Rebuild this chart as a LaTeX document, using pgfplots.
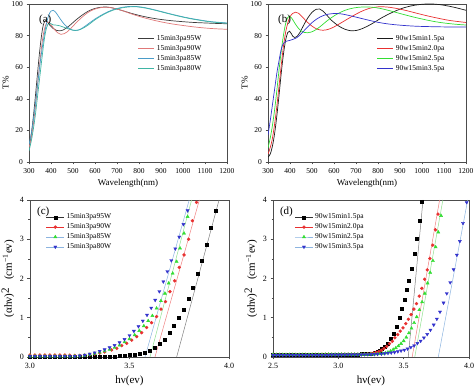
\documentclass[border=0pt]{standalone}
\usepackage{fontspec}
\setmainfont{Liberation Serif}
\usepackage{pgfplots}
\pgfplotsset{compat=1.18}
\definecolor{a95}{HTML}{3C3C3C}
\definecolor{a90}{HTML}{E07878}
\definecolor{a85}{HTML}{4A9CC8}
\definecolor{a80}{HTML}{3FB5A5}
\definecolor{bk}{HTML}{1A1A1A}
\definecolor{br}{HTML}{E83030}
\definecolor{bg}{HTML}{33DD33}
\definecolor{bb}{HTML}{3333CC}
\definecolor{lblue}{HTML}{8CB4E0}
\definecolor{lred}{HTML}{F08080}
\definecolor{lgreen}{HTML}{90E090}
\pgfplotsset{
  base/.style={scale only axis, anchor=south west,
    axis line style={draw=black!70}, tick style={black!70, line width=0.5pt},
    tick align=outside, tick pos=left, major tick length=2.5pt, minor tick length=1.5pt,
    /pgf/number format/assume math mode=true, /pgf/number format/1000 sep={},
    tick label style={font=\fontsize{7.5}{8.5}\selectfont},
    label style={font=\fontsize{9}{10}\selectfont},
    legend cell align=left,
    legend style={draw=none, fill=none, font=\fontsize{7.5}{8.5}\selectfont, row sep=-0.6pt, inner sep=0pt}},
  spec/.style={base, width=198pt, height=158pt, xmin=300, xmax=1200, ymin=0, ymax=100,
    xtick={300,400,...,1200}, ytick={0,20,...,100},
    xlabel={Wavelength(nm)}, ylabel={T\%},
    ylabel style={at={(axis description cs:-0.085,0.5)}, anchor=south},
    xlabel style={at={(axis description cs:0.5,-0.085)}, anchor=north},
    legend image code/.code={\draw[##1, line width=0.7pt] (0pt,0pt) -- (16pt,0pt);},
    legend style={at={(0.55,0.815)}, anchor=north west},
    every axis plot/.append style={line width=0.7pt, smooth, tension=0.6}},
  tauc/.style={base, height=157pt, ymin=0, ymax=4, ytick={0,1,2,3,4}, minor y tick num=1,
    xlabel={hν(ev)}, ylabel={(αhν)\raisebox{0.6ex}{2}\ \ \ (cm\textsuperscript{−1}ev)},
    label style={font=\fontsize{11}{12}\selectfont},
    ylabel style={at={(axis description cs:-0.062,0.5)}, anchor=south},
    xlabel style={at={(axis description cs:0.5,-0.1)}, anchor=north},
    tick label style={font=\fontsize{8}{9}\selectfont},
    xticklabel style={/pgf/number format/.cd, fixed, fixed zerofill, precision=1},
    legend image code/.code={\draw[mark repeat=2, mark phase=2, ##1] plot coordinates {(0pt,0pt) (9pt,0pt) (18pt,0pt)};},
    legend style={anchor=north west}},
}
\begin{document}
\begin{tikzpicture}[x=1pt,y=1pt]
\path[use as bounding box] (0,0) rectangle (474,387);
% ---------------- (a)
\begin{axis}[spec, at={(29pt,225pt)}]
\addplot[a95] coordinates {(300,8)(310,17)(320,29)(330,43)(340,58)(350,72)(360,83)(368,88)(376,89.5)(385,88.5)(395,86.5)(410,84.5)(425,83.3)(440,83)(455,83.5)(470,84.8)(490,87)(510,89.5)(540,92.8)(570,95.5)(600,97.2)(630,98)(650,98.1)(680,97.5)(720,96)(760,94.3)(800,92.8)(850,91.3)(900,90.2)(950,89.4)(1000,88.8)(1050,88.3)(1100,88)(1150,87.7)(1200,87.5)};
\addlegendentry{15min3pa95W}
\addplot[a90] coordinates {(300,9)(310,15)(320,24)(330,36)(340,50)(350,64)(360,76)(370,84)(380,88)(390,88.5)(400,87)(415,84)(430,81.8)(445,80.8)(460,81.2)(475,82.5)(490,84.5)(510,87.5)(540,91.5)(570,94.8)(600,96.8)(630,97.8)(650,98)(680,97.5)(720,96)(760,94)(800,92.2)(850,90.3)(900,88.7)(950,87.4)(1000,86.4)(1050,85.5)(1100,84.8)(1150,84.3)(1200,84)};
\addlegendentry{15min3pa90W}
\addplot[a85] coordinates {(300,11)(310,18)(320,27)(330,38)(340,50)(350,62)(360,72)(370,81)(380,88)(390,93)(400,95.5)(410,96)(420,95)(435,92)(450,89)(465,86.5)(480,84.8)(495,83.6)(510,83.2)(525,83.5)(545,85)(570,87.5)(600,90.5)(640,93.8)(680,96.3)(720,97.8)(760,98.5)(790,98.4)(830,97.6)(880,96)(930,94.2)(980,92.5)(1030,91)(1080,89.8)(1130,88.8)(1200,88)};
\addlegendentry{15min3pa85W}
\addplot[a80] coordinates {(300,7)(310,13)(320,21)(330,31)(340,43)(350,55)(360,67)(370,78)(380,85)(390,87.8)(400,87.5)(410,86.8)(425,86.6)(440,86.2)(460,85.2)(480,84.2)(500,83.4)(515,83.3)(530,83.7)(550,85)(575,87.3)(600,90)(640,93.4)(680,96)(720,97.5)(760,98.2)(790,98.2)(830,97.4)(880,95.8)(930,94)(980,92.3)(1030,90.8)(1080,89.6)(1130,88.6)(1200,87.8)};
\addlegendentry{15min3pa80W}
\node[anchor=north west, font=\fontsize{11}{12}\selectfont, inner sep=0pt] at (rel axis cs:0.05,0.93) {(a)};
\end{axis}
% ---------------- (b)
\begin{axis}[spec, at={(268pt,225pt)}]
\addplot[bk] coordinates {(300,3)(310,5)(320,10)(330,18)(340,29)(350,42)(360,56)(370,68)(380,77)(390,82)(398,82.8)(405,81.5)(413,79.5)(422,78.8)(432,79.5)(445,82)(460,86)(480,91)(500,94.7)(520,96.7)(535,96.8)(550,95.5)(570,92.5)(590,89.5)(620,86.2)(650,84)(680,83)(700,83.2)(730,84.5)(770,87.3)(820,91.5)(870,95)(920,97.7)(970,99.3)(1020,100)(1060,99.9)(1100,99.2)(1150,97.8)(1200,96)};
\addlegendentry{90w15min1.5pa}
\addplot[br] coordinates {(300,5)(310,9)(320,15)(330,24)(340,35)(350,48)(360,61)(370,73)(380,82)(390,88)(400,91.8)(412,94)(425,94.8)(438,94.2)(455,92)(475,89)(500,86)(525,84)(550,83.4)(575,84)(600,85.5)(640,88.7)(680,92)(720,95)(760,97.2)(800,98.2)(840,98.1)(880,97.3)(930,95.8)(980,94)(1030,92.3)(1080,90.8)(1130,89.5)(1200,88.3)};
\addlegendentry{90w15min2.0pa}
\addplot[bg] coordinates {(300,9)(310,15)(320,23)(330,33)(340,45)(350,58)(360,70)(370,80)(380,87.5)(390,91.5)(398,92.3)(408,91)(420,88.3)(435,85.2)(450,83)(465,82)(480,81.8)(495,82.2)(515,83.5)(540,86)(570,89.5)(610,93.3)(650,96)(690,97.5)(730,98.1)(770,98)(810,97.2)(860,95.5)(910,93.6)(960,91.8)(1010,90.2)(1060,88.8)(1110,87.8)(1160,87.1)(1200,86.7)};
\addlegendentry{90w15min2.5pa}
\addplot[bb] coordinates {(300,17)(310,26)(320,36)(330,46)(340,56)(350,64)(358,70)(366,74)(375,75.8)(385,76.5)(400,77)(415,77.7)(430,78.6)(445,80.3)(460,82.5)(480,85.5)(500,88.2)(525,90.8)(550,92.6)(575,93.6)(600,94)(630,93.8)(660,93)(700,91.7)(750,90)(800,88.4)(850,87.3)(900,86.6)(950,86.1)(1000,85.8)(1100,85.5)(1200,85.4)};
\addlegendentry{90w15min3.5pa}
\node[anchor=north west, font=\fontsize{11}{12}\selectfont, inner sep=0pt] at (rel axis cs:0.05,0.93) {(b)};
\end{axis}
% ---------------- (c)
\begin{axis}[tauc, at={(30pt,30pt)}, width=199pt, xmin=3, xmax=4, xtick={3,3.5,4}, minor x tick num=1,
  legend style={at={(0.08,0.925)}}]
\addplot[gray, line width=0.5pt, forget plot] coordinates {(3.737,0)(3.95,4)};
\addplot[lred, line width=0.5pt, forget plot] coordinates {(3.628,0)(3.851,4)};
\addplot[lgreen, line width=0.5pt, forget plot] coordinates {(3.603,0)(3.812,4)};
\addplot[lblue, line width=0.5pt, forget plot] coordinates {(3.578,0)(3.80,4)};
\addplot[only marks, mark=square*, mark size=1.5pt, black, forget plot] coordinates {(3.0,0.005)(3.025,0.005)(3.05,0.005)(3.075,0.005)(3.1,0.005)(3.125,0.005)(3.15,0.005)(3.175,0.005)(3.2,0.005)(3.225,0.005)(3.25,0.005)(3.275,0.006)(3.3,0.007)(3.325,0.008)(3.35,0.009)(3.375,0.01)(3.40,0.013)(3.425,0.018)(3.45,0.025)(3.475,0.035)(3.50,0.05)(3.525,0.07)(3.553,0.094)(3.578,0.12)(3.603,0.16)(3.628,0.24)(3.653,0.33)(3.675,0.45)(3.70,0.62)(3.722,0.80)(3.747,1.0)(3.77,1.21)(3.795,1.48)(3.817,1.77)(3.841,2.11)(3.863,2.45)(3.886,2.85)(3.91,3.3)(3.935,3.73)};
\addplot[only marks, mark=*, mark size=1.5pt, br, forget plot] coordinates {(3.0,0.05)(3.025,0.05)(3.05,0.05)(3.075,0.05)(3.1,0.05)(3.125,0.05)(3.15,0.05)(3.175,0.05)(3.2,0.045)(3.225,0.04)(3.25,0.04)(3.275,0.045)(3.3,0.055)(3.325,0.075)(3.35,0.10)(3.375,0.13)(3.41,0.18)(3.436,0.22)(3.461,0.29)(3.486,0.35)(3.511,0.43)(3.536,0.52)(3.561,0.62)(3.586,0.75)(3.611,0.875)(3.636,1.03)(3.658,1.22)(3.681,1.41)(3.703,1.665)(3.727,1.94)(3.750,2.285)(3.774,2.60)(3.797,3.0)(3.816,3.47)(3.837,3.94)};
\addplot[only marks, mark=triangle*, mark size=1.8pt, bg, forget plot] coordinates {(3.0,0.02)(3.025,0.02)(3.05,0.02)(3.075,0.02)(3.1,0.02)(3.125,0.02)(3.15,0.02)(3.175,0.02)(3.2,0.02)(3.225,0.02)(3.25,0.025)(3.275,0.04)(3.30,0.06)(3.325,0.09)(3.35,0.12)(3.375,0.15)(3.40,0.19)(3.425,0.24)(3.45,0.30)(3.475,0.38)(3.50,0.46)(3.526,0.56)(3.549,0.67)(3.572,0.79)(3.594,0.92)(3.615,1.05)(3.636,1.24)(3.658,1.43)(3.678,1.62)(3.697,1.88)(3.717,2.13)(3.737,2.43)(3.754,2.77)(3.774,3.15)(3.792,3.575)};
\addplot[only marks, mark=triangle*, mark options={rotate=180}, mark size=1.8pt, bb, forget plot] coordinates {(3.0,0.02)(3.025,0.02)(3.05,0.02)(3.075,0.02)(3.1,0.02)(3.125,0.02)(3.15,0.02)(3.175,0.02)(3.2,0.02)(3.225,0.02)(3.25,0.03)(3.275,0.05)(3.30,0.08)(3.325,0.11)(3.35,0.15)(3.375,0.19)(3.40,0.24)(3.425,0.30)(3.45,0.37)(3.475,0.45)(3.50,0.55)(3.522,0.66)(3.545,0.78)(3.567,0.92)(3.588,1.07)(3.609,1.25)(3.629,1.45)(3.65,1.67)(3.67,1.92)(3.69,2.18)(3.71,2.46)(3.73,2.76)(3.75,3.06)(3.771,3.38)(3.792,3.73)};
\addlegendimage{black!80, mark=square*, mark size=1.5pt, mark options={black}}
\addlegendentry{15min3pa95W}
\addlegendimage{br, mark=*, mark size=1.5pt, mark options={br}}
\addlegendentry{15min3pa90W}
\addlegendimage{lblue, mark=triangle*, mark size=1.8pt, mark options={bg, fill=bg}}
\addlegendentry{15min3pa85W}
\addlegendimage{lblue, mark=triangle*, mark size=1.8pt, mark options={bb, fill=bb, rotate=180}}
\addlegendentry{15min3pa80W}
\node[anchor=north west, font=\fontsize{11}{12}\selectfont, inner sep=0pt] at (rel axis cs:0.035,0.955) {(c)};
\end{axis}
% ---------------- (d)
\begin{axis}[tauc, at={(273pt,30pt)}, width=196pt, xmin=2.5, xmax=4, xtick={2.5,3,3.5,4}, minor x tick num=1,
  legend style={at={(0.11,0.925)}}]
\addplot[gray, line width=0.5pt, forget plot] coordinates {(3.535,0)(3.648,4)};
\addplot[lred, line width=0.5pt, forget plot] coordinates {(3.565,0)(3.775,4)};
\addplot[lgreen, line width=0.5pt, forget plot] coordinates {(3.585,0)(3.80,4)};
\addplot[lblue, line width=0.5pt, forget plot] coordinates {(3.765,0)(3.99,4)};
\addplot[only marks, mark=square*, mark size=1.5pt, black, forget plot] coordinates {(2.5,0.05)(2.525,0.05)(2.55,0.05)(2.575,0.05)(2.6,0.05)(2.625,0.05)(2.65,0.05)(2.675,0.05)(2.7,0.05)(2.725,0.05)(2.75,0.055)(2.775,0.055)(2.8,0.055)(2.825,0.055)(2.85,0.06)(2.875,0.06)(2.9,0.06)(2.925,0.06)(2.95,0.06)(2.975,0.065)(3.0,0.065)(3.025,0.065)(3.05,0.065)(3.075,0.07)(3.1,0.07)(3.125,0.07)(3.15,0.07)(3.175,0.075)(3.2,0.08)(3.225,0.085)(3.25,0.09)(3.275,0.11)(3.30,0.13)(3.32,0.16)(3.334,0.20)(3.357,0.26)(3.378,0.35)(3.397,0.46)(3.423,0.60)(3.443,0.77)(3.466,0.99)(3.487,1.24)(3.505,1.45)(3.52,1.71)(3.54,1.94)(3.56,2.24)(3.581,2.62)(3.60,3.02)(3.62,3.47)(3.640,3.96)};
\addplot[only marks, mark=*, mark size=1.5pt, br, forget plot] coordinates {(2.5,0.06)(2.525,0.06)(2.55,0.06)(2.575,0.06)(2.6,0.06)(2.625,0.06)(2.65,0.06)(2.675,0.06)(2.7,0.06)(2.725,0.06)(2.75,0.06)(2.775,0.06)(2.8,0.06)(2.825,0.06)(2.85,0.06)(2.875,0.065)(2.9,0.065)(2.925,0.065)(2.95,0.065)(2.975,0.065)(3.0,0.065)(3.025,0.07)(3.05,0.07)(3.075,0.07)(3.1,0.07)(3.125,0.07)(3.15,0.07)(3.175,0.07)(3.2,0.075)(3.225,0.08)(3.25,0.09)(3.27,0.10)(3.29,0.12)(3.31,0.14)(3.33,0.17)(3.35,0.22)(3.371,0.27)(3.392,0.34)(3.413,0.40)(3.433,0.49)(3.454,0.57)(3.474,0.66)(3.495,0.74)(3.516,0.85)(3.536,0.96)(3.557,1.08)(3.578,1.22)(3.598,1.36)(3.619,1.55)(3.639,1.75)(3.66,1.98)(3.681,2.22)(3.701,2.51)(3.722,2.85)(3.743,3.24)(3.763,3.64)};
\addplot[only marks, mark=triangle*, mark size=1.8pt, bg, forget plot] coordinates {(2.5,0.06)(2.525,0.06)(2.55,0.06)(2.575,0.06)(2.6,0.06)(2.625,0.06)(2.65,0.06)(2.675,0.06)(2.7,0.06)(2.725,0.06)(2.75,0.06)(2.775,0.06)(2.8,0.06)(2.825,0.06)(2.85,0.06)(2.875,0.06)(2.9,0.065)(2.925,0.065)(2.95,0.065)(2.975,0.065)(3.0,0.065)(3.025,0.065)(3.05,0.065)(3.075,0.065)(3.1,0.065)(3.125,0.065)(3.15,0.065)(3.175,0.065)(3.2,0.065)(3.225,0.065)(3.25,0.07)(3.275,0.07)(3.30,0.075)(3.32,0.08)(3.34,0.09)(3.36,0.10)(3.38,0.12)(3.40,0.15)(3.42,0.19)(3.44,0.23)(3.46,0.28)(3.48,0.34)(3.50,0.41)(3.52,0.50)(3.54,0.61)(3.56,0.73)(3.58,0.87)(3.60,1.02)(3.62,1.2)(3.641,1.40)(3.662,1.62)(3.683,1.88)(3.703,2.15)(3.724,2.45)(3.745,2.8)(3.765,3.18)(3.786,3.6)};
\addplot[only marks, mark=triangle*, mark options={rotate=180}, mark size=1.8pt, bb, forget plot] coordinates {(2.5,0.05)(2.525,0.05)(2.55,0.05)(2.575,0.05)(2.6,0.05)(2.625,0.05)(2.65,0.05)(2.675,0.05)(2.7,0.05)(2.725,0.05)(2.75,0.05)(2.775,0.05)(2.8,0.05)(2.825,0.05)(2.85,0.05)(2.875,0.05)(2.9,0.05)(2.925,0.05)(2.95,0.055)(2.975,0.055)(3.0,0.055)(3.025,0.055)(3.05,0.055)(3.075,0.06)(3.1,0.06)(3.125,0.06)(3.15,0.06)(3.175,0.06)(3.2,0.065)(3.225,0.065)(3.25,0.07)(3.275,0.07)(3.30,0.075)(3.33,0.08)(3.355,0.09)(3.38,0.10)(3.405,0.11)(3.43,0.12)(3.455,0.14)(3.48,0.16)(3.505,0.18)(3.53,0.21)(3.555,0.25)(3.58,0.29)(3.605,0.35)(3.63,0.41)(3.655,0.49)(3.68,0.58)(3.705,0.69)(3.73,0.82)(3.754,0.97)(3.778,1.15)(3.805,1.38)(3.830,1.62)(3.856,1.90)(3.882,2.23)(3.907,2.60)(3.93,2.95)(3.954,3.41)(3.982,3.94)};
\addlegendimage{black!80, mark=square*, mark size=1.5pt, mark options={black}}
\addlegendentry{90w15min1.5pa}
\addlegendimage{br, mark=*, mark size=1.5pt, mark options={br}}
\addlegendentry{90w15min2.0pa}
\addlegendimage{lblue, mark=triangle*, mark size=1.8pt, mark options={bg, fill=bg}}
\addlegendentry{90w15min2.5pa}
\addlegendimage{lblue, mark=triangle*, mark size=1.8pt, mark options={bb, fill=bb, rotate=180}}
\addlegendentry{90w15min3.5pa}
\node[anchor=north west, font=\fontsize{11}{12}\selectfont, inner sep=0pt] at (rel axis cs:0.035,0.955) {(d)};
\end{axis}
\end{tikzpicture}
\end{document}
